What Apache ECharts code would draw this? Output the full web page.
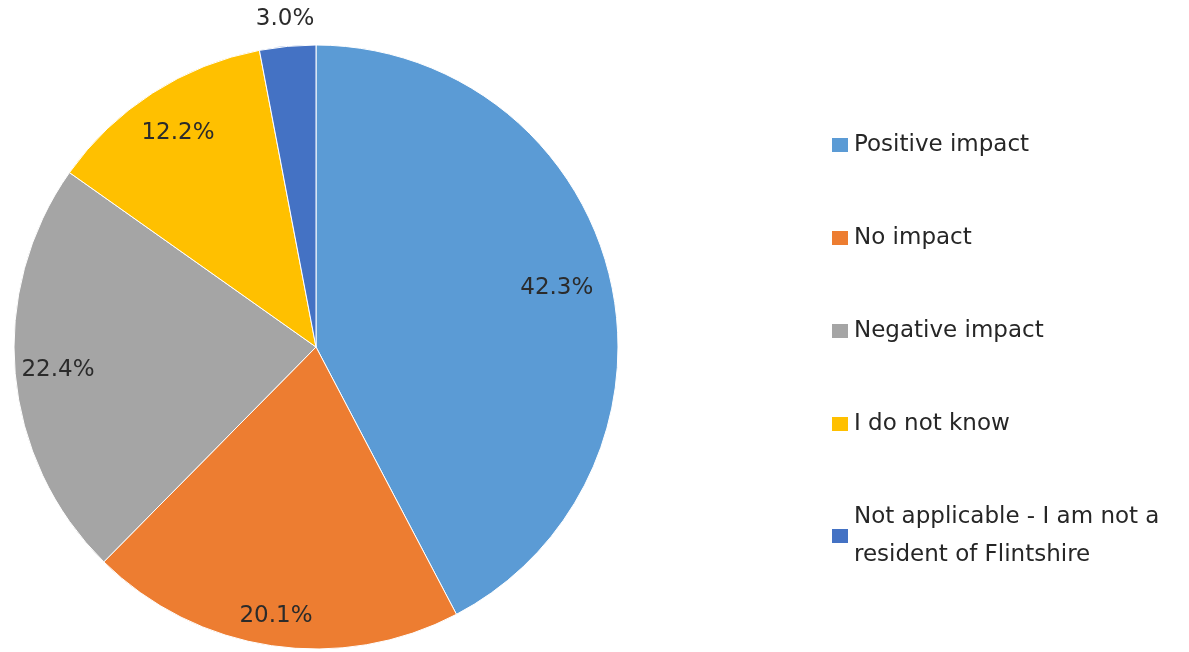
<!DOCTYPE html>
<html>
<head>
<meta charset="utf-8">
<script src="https://cdn.jsdelivr.net/npm/echarts@6/dist/echarts.min.js"></script>
<style>
html,body{margin:0;padding:0;background:#fff;}
#chart{width:1189px;height:652px;}
</style>
</head>
<body>
<div id="chart"></div>
<script>
const categories = ['Positive impact', 'No impact', 'Negative impact', 'I do not know', 'Not applicable - I am not a resident of Flintshire'];
const values = [42.3, 20.1, 22.4, 12.2, 3.0];
const colors = ['#5B9BD5', '#ED7D31', '#A5A5A5', '#FFC000', '#4472C4'];

// style: radial distance (px) where each slice's label sits
const labelRadius = [245, 269, 256, 252, 326];
const pieCenter = [316, 347];
const pieR = 302;
const FONT = 'DejaVu Sans';

const chart = echarts.init(document.getElementById('chart'), null, {renderer: 'canvas'});

const mainSeries = {
  type: 'pie',
  center: pieCenter,
  radius: [0, pieR],
  startAngle: 90,
  clockwise: true,
  silent: true,
  animation: false,
  label: {show: false},
  labelLine: {show: false},
  itemStyle: {borderColor: '#ffffff', borderWidth: 1},
  emphasis: {disabled: true},
  data: categories.map((c, i) => ({name: c, value: values[i], itemStyle: {color: colors[i]}}))
};

const labelSeries = labelRadius.map((lr, k) => ({
  type: 'pie',
  center: pieCenter,
  radius: [lr - 8, lr + 8],
  startAngle: 90,
  clockwise: true,
  silent: true,
  animation: false,
  z: 5,
  labelLine: {show: false},
  emphasis: {disabled: true},
  itemStyle: {color: 'rgba(0,0,0,0)', borderWidth: 0},
  data: categories.map((c, i) => ({
    name: c,
    value: values[i],
    itemStyle: {color: 'rgba(0,0,0,0)'},
    label: {
      show: i === k,
      position: 'inside',
      formatter: () => values[i].toFixed(1) + '%',
      color: '#2b2b2b',
      fontFamily: FONT,
      fontSize: 23
    }
  }))
}));

chart.setOption({
  backgroundColor: '#ffffff',
  color: colors,
  legend: {
    orient: 'vertical',
    left: 830,
    top: 126,
    padding: 0,
    itemWidth: 18,
    itemHeight: 16,
    itemGap: 55,
    icon: 'rect',
    selectedMode: false,
    data: categories,
    textStyle: {
      fontFamily: FONT,
      fontSize: 23,
      color: '#262626',
      lineHeight: 38,
      width: 336,
      overflow: 'break'
    }
  },
  series: [mainSeries].concat(labelSeries)
});
</script>
</body>
</html>
